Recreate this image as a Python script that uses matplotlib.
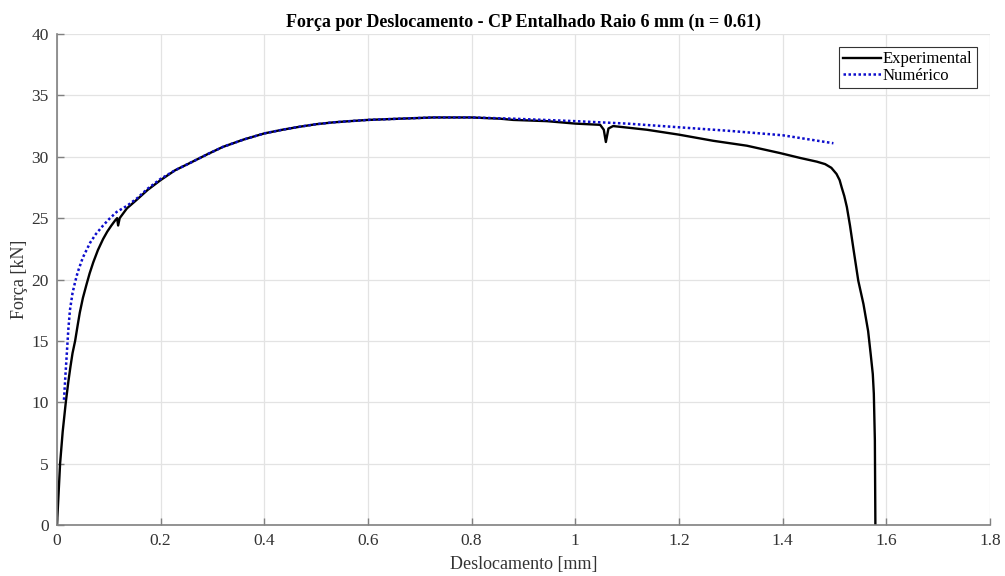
import matplotlib.pyplot as plt

# Curva experimental
desl_exp = [0.0, 0.003, 0.006, 0.011, 0.017, 0.022, 0.026, 0.030, 0.035, 0.040,
            0.044, 0.050, 0.057, 0.063, 0.070, 0.079, 0.089, 0.097, 0.105,
            0.112, 0.116, 0.118, 0.121, 0.128, 0.135, 0.154, 0.175, 0.200, 0.228,
            0.257, 0.290, 0.320, 0.360, 0.400, 0.435, 0.469, 0.500, 0.533, 0.565,
            0.600, 0.662, 0.726, 0.800, 0.855, 0.880, 0.945,
            1.000, 1.048, 1.055, 1.059, 1.064, 1.073, 1.138, 1.200, 1.266, 1.331,
            1.395, 1.434, 1.466, 1.482, 1.494, 1.504, 1.510, 1.514, 1.519, 1.524,
            1.530, 1.537, 1.546, 1.556, 1.565, 1.570, 1.574, 1.576, 1.578, 1.579]
forca_exp = [0.0, 2.5, 5.0, 7.6, 10.0, 11.7, 12.9, 14.0, 15.0, 16.3,
             17.3, 18.5, 19.6, 20.5, 21.4, 22.4, 23.3, 23.9, 24.4,
             24.8, 25.0, 24.4, 25.0, 25.4, 25.8, 26.5, 27.3, 28.1, 28.9,
             29.5, 30.2, 30.8, 31.4, 31.9, 32.2, 32.45, 32.65, 32.8, 32.9,
             33.0, 33.1, 33.2, 33.2, 33.1, 33.0, 32.9,
             32.7, 32.6, 32.2, 31.2, 32.3, 32.5, 32.2, 31.8, 31.3, 30.9,
             30.3, 29.9, 29.6, 29.4, 29.1, 28.6, 28.1, 27.5, 26.8, 25.9,
             24.4, 22.4, 19.9, 18.0, 15.8, 13.9, 12.3, 10.7, 6.9, 0.0]

# Curva numérica
desl_num = [0.0135, 0.016, 0.019, 0.022, 0.025, 0.030, 0.035, 0.040, 0.050, 0.064,
            0.075, 0.089, 0.100, 0.115, 0.135, 0.154, 0.175, 0.200, 0.228, 0.257,
            0.290, 0.320, 0.360, 0.400, 0.435, 0.469, 0.500, 0.533, 0.565, 0.600,
            0.662, 0.726, 0.800, 0.880, 1.000, 1.100, 1.200, 1.300, 1.400, 1.498]
forca_num = [10.2, 12.0, 14.0, 16.0, 17.5, 18.9, 19.8, 20.6, 21.8, 23.0,
             23.7, 24.4, 24.9, 25.5, 26.0, 26.6, 27.4, 28.2, 28.9, 29.5,
             30.2, 30.8, 31.4, 31.9, 32.2, 32.45, 32.65, 32.8, 32.9, 33.0,
             33.1, 33.2, 33.2, 33.1, 32.9, 32.7, 32.4, 32.1, 31.75, 31.1]

xticks = [0, 0.2, 0.4, 0.6, 0.8, 1, 1.2, 1.4, 1.6, 1.8]
xticklabels = ['0', '0.2', '0.4', '0.6', '0.8', '1', '1.2', '1.4', '1.6', '1.8']
yticks = [0, 5, 10, 15, 20, 25, 30, 35, 40]


def main():
    plt.rcParams['font.family'] = ['Liberation Serif', 'DejaVu Serif']

    fig = plt.figure(figsize=(10.05, 5.76), dpi=100)
    ax = fig.add_axes([0.0567, 0.0885, 0.9283, 0.8525])

    ax.plot(desl_exp, forca_exp, color='black', linewidth=1.7, label='Experimental')
    ax.plot(desl_num, forca_num, color=(0.05, 0.05, 0.8), linewidth=1.8,
            linestyle=(0, (1, 1)), label='Numérico')

    ax.set_xlim(0, 1.8)
    ax.set_ylim(0, 40)
    ax.set_xticks(xticks)
    ax.set_xticklabels(xticklabels)
    ax.set_yticks(yticks)

    ax.grid(True, color='#e3e3e3', linewidth=0.9)
    ax.set_axisbelow(True)
    for s in ['top', 'right']:
        ax.spines[s].set_visible(False)
    for s in ['left', 'bottom']:
        ax.spines[s].set_color('#808080')
        ax.spines[s].set_linewidth(1.2)
    ax.tick_params(direction='in', length=5, width=1, color='#808080',
                   labelsize=12.5, labelcolor='#333333', pad=6)

    ax.set_xlabel('Deslocamento [mm]', fontsize=13, color='#333333', labelpad=5)
    ax.set_ylabel('Força [kN]', fontsize=13, color='#333333', labelpad=2)
    ax.set_title('Força por Deslocamento - CP Entalhado Raio 6 mm (n = 0.61)',
                 fontsize=13, fontweight='bold', pad=5)

    leg = ax.legend(loc='upper right', fontsize=12, fancybox=False,
                    edgecolor='#333333', framealpha=1, handlelength=2.3,
                    handletextpad=0.1, borderpad=0.25, labelspacing=0.05,
                    borderaxespad=0.8)
    leg.get_frame().set_linewidth(0.8)

    plt.savefig('out.png', dpi=100)


if __name__ == "__main__":
    main()
